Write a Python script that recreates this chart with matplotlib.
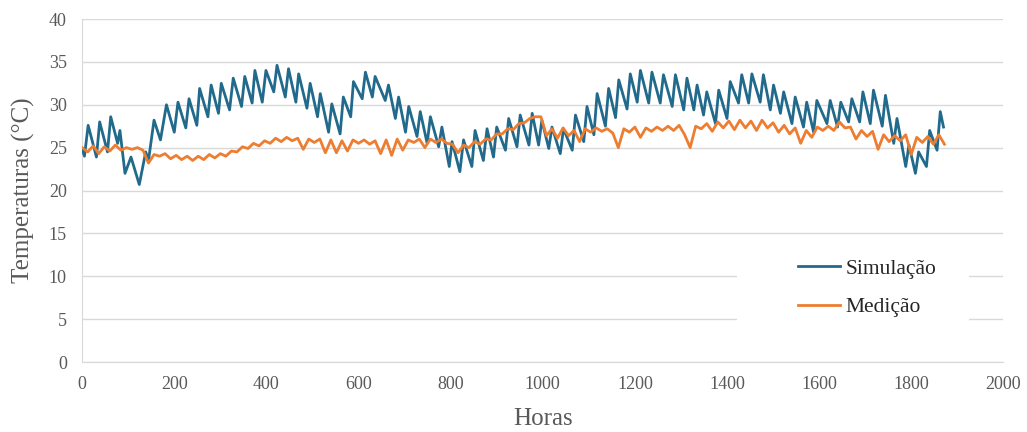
import matplotlib
matplotlib.use("Agg")
import matplotlib.pyplot as plt
from matplotlib.patches import Rectangle

# Simulação: daily troughs / peaks (hour, °C)
sim_hours = [0, 5, 13, 31, 38, 55, 62, 77, 82, 93, 106, 124, 138, 144, 156,
             170, 183, 200, 208, 225, 232, 249, 255, 273, 280, 296, 302, 320, 328,
             346, 353, 369, 375, 391, 399, 416, 423, 441, 448, 464, 470, 488, 495,
             511, 517, 535, 542, 560, 567, 583, 589, 608, 615, 630, 636, 658, 665,
             680, 687, 702, 709, 727, 734, 749, 756, 774, 781, 797, 803, 820, 828,
             846, 853, 871, 879, 893, 900, 919, 926, 944, 951, 970, 977, 991, 998,
             1013, 1020, 1038, 1045, 1064, 1071, 1089, 1096, 1111, 1118, 1136, 1143,
             1158, 1165, 1183, 1190, 1205, 1212, 1230, 1237, 1255, 1262, 1281, 1288,
             1306, 1313, 1328, 1335, 1349, 1356, 1375, 1382, 1400, 1407, 1425, 1432,
             1447, 1454, 1472, 1479, 1494, 1501, 1516, 1523, 1541, 1548, 1566, 1573,
             1588, 1595, 1617, 1624, 1640, 1647, 1664, 1671, 1688, 1695, 1711, 1718,
             1737, 1744, 1762, 1769, 1788, 1795, 1809, 1816, 1833, 1840, 1856, 1863,
             1870]
sim_temps = [24.8, 24.0, 27.6, 23.9, 28.0, 24.5, 28.6, 25.5, 27.0, 22.0, 23.9, 20.7, 24.5, 23.5, 28.2,
             25.9, 30.0, 26.8, 30.3, 27.3, 30.7, 27.6, 31.9, 28.6, 32.3, 29.0, 32.5, 29.4, 33.1,
             29.8, 33.3, 30.2, 34.0, 30.3, 34.0, 31.5, 34.6, 30.9, 34.2, 30.3, 33.6, 29.6, 32.5,
             28.6, 31.3, 26.8, 30.1, 26.6, 30.9, 28.6, 32.7, 30.7, 33.8, 30.9, 33.3, 30.5, 32.3,
             28.4, 30.9, 26.8, 29.8, 26.3, 29.2, 25.5, 28.6, 25.1, 27.4, 22.8, 25.7, 22.2, 25.9,
             22.8, 27.0, 23.5, 27.2, 23.9, 27.4, 24.7, 28.4, 25.1, 28.8, 25.3, 29.0, 25.3, 28.2,
             24.9, 27.4, 24.3, 27.2, 24.7, 28.8, 25.7, 29.8, 26.5, 31.3, 27.5, 31.9,
             28.5, 32.9, 29.5, 33.6, 30.3, 34.0, 30.2, 33.8, 30.2, 33.5, 29.8, 33.5,
             29.4, 33.1, 29.4, 32.3, 28.8, 31.5, 27.8, 31.7, 28.4, 32.7, 30.2, 33.5,
             30.2, 33.6, 30.3, 33.5, 29.4, 32.3, 29.0, 31.5, 27.8, 30.9, 27.4, 30.3,
             26.8, 30.5, 27.8, 30.5, 27.4, 30.3, 28.0, 30.7, 28.0, 31.5, 27.8, 31.7,
             27.5, 31.1, 25.5, 28.4, 22.8, 25.3, 22.0, 24.5, 22.8, 27.0, 24.7, 29.2,
             27.4]

# Medição: readings every 12 h (hour, °C)
med_hours = list(range(0, 1873, 12))
med_temps = [25.0, 24.5, 25.2, 24.3, 25.1, 24.6, 25.3, 24.7, 25.0, 24.8, 25.0, 24.7, 23.2,
             24.2, 24.0, 24.3, 23.7, 24.1, 23.6, 24.0, 23.5, 24.0, 23.6, 24.2, 23.8, 24.3,
             24.0, 24.6, 24.5, 25.1, 24.9, 25.5, 25.2, 25.8, 25.5, 26.1, 25.7, 26.2, 25.8,
             26.1, 24.8, 26.0, 25.6, 26.0, 24.4, 25.9, 24.4, 25.8, 24.6, 25.9, 25.5, 25.9,
             25.4, 25.8, 24.3, 25.9, 24.1, 26.0, 24.7, 25.9, 25.6, 26.0, 25.0, 26.0, 25.6,
             26.0, 25.5, 25.4, 24.4, 25.3, 25.0, 25.7, 25.4, 26.0, 25.9, 26.6, 26.6, 27.2,
             27.1, 27.8, 27.9, 28.4, 28.6, 28.6, 26.4, 27.2, 26.1, 27.3, 26.4, 27.0, 25.7,
             27.2, 26.8, 27.3, 26.9, 27.2, 26.7, 25.0, 27.2, 26.8, 27.4, 26.2, 27.3, 26.9,
             27.4, 27.0, 27.5, 27.0, 27.6, 26.5, 25.0, 27.5, 27.2, 27.8, 26.9, 28.0, 27.3,
             28.1, 27.1, 28.2, 27.3, 28.1, 27.0, 28.2, 27.3, 27.9, 26.8, 27.6, 26.6, 27.3,
             25.5, 27.0, 26.2, 27.4, 27.0, 27.5, 27.0, 28.0, 27.3, 27.4, 26.0, 27.0, 26.3,
             26.9, 24.8, 26.5, 25.7, 26.4, 25.8, 26.5, 24.2, 26.2, 25.6, 26.3, 25.4, 26.5,
             25.4]

x_ticks = [0, 200, 400, 600, 800, 1000, 1200, 1400, 1600, 1800, 2000]
y_ticks = [0, 5, 10, 15, 20, 25, 30, 35, 40]

plt.rcParams['font.family'] = ['Liberation Serif', 'DejaVu Serif']

fig = plt.figure(figsize=(10.27, 4.32), dpi=100)
ax = fig.add_axes([0.080, 0.162, 0.897, 0.794])

ax.plot(sim_hours, sim_temps, color='#226a8c', lw=2.0, label='Simulação', zorder=3)
ax.plot(med_hours, med_temps, color='#ed7d31', lw=2.0, label='Medição', zorder=3)

ax.set_xlim(0, 2000)
ax.set_ylim(0, 40)
ax.set_xticks(x_ticks)
ax.set_yticks(y_ticks)
ax.tick_params(length=0, labelsize=13, colors='#595959')
ax.tick_params(axis='x', pad=10)
ax.tick_params(axis='y', pad=11)
ax.grid(axis='y', color='#d9d9d9', lw=1)
ax.set_axisbelow(True)
for s in ['top', 'right']:
    ax.spines[s].set_visible(False)
for s in ['left', 'bottom']:
    ax.spines[s].set_color('#d9d9d9')

ax.set_xlabel('Horas', fontsize=18, color='#595959', labelpad=11)
ax.set_ylabel('Temperaturas (°C)', fontsize=18, color='#595959', labelpad=10)

# white box behind the legend (hides grid lines there)
fig.patches.append(Rectangle((0.718, 0.248), 0.226, 0.185, transform=fig.transFigure,
                             facecolor='white', edgecolor='none', zorder=2))
leg = fig.legend(loc='center left', bbox_to_anchor=(0.767, 0.333), frameon=False,
                 fontsize=15.5, handlelength=1.95, handletextpad=0.25, labelspacing=0.85,
                 borderpad=0, labelcolor='#262626')

fig.savefig('out.png', dpi=100)
